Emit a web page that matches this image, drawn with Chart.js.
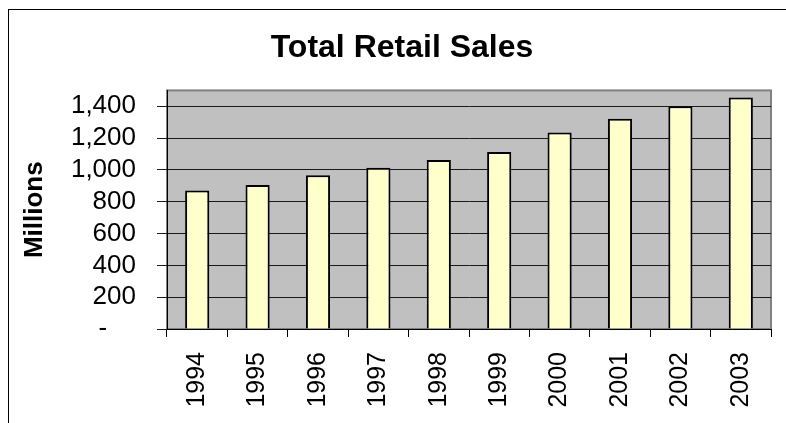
<!DOCTYPE html>
<html>
<head>
<meta charset="utf-8">
<script src="https://cdn.jsdelivr.net/npm/chart.js@4.4.1/dist/chart.umd.min.js"></script>
<style>
  html, body { margin: 0; padding: 0; background: #ffffff; }
  #wrap { width: 786px; height: 423px; }
</style>
</head>
<body>
<div id="wrap"><canvas id="c" width="786" height="423"></canvas></div>
<script>
// Annual totals, in millions
const years = ['1994', '1995', '1996', '1997', '1998', '1999', '2000', '2001', '2002', '2003'];
const sales = [870, 905, 967, 1014, 1062, 1113, 1235, 1321, 1401, 1455];
const yTickValues = [0, 200, 400, 600, 800, 1000, 1200, 1400];

const FONT = "'Liberation Sans', Arial, Helvetica, sans-serif";

// Gray plot background, gray plot frame, and the outer chart frame
const backdrop = {
  id: 'backdrop',
  beforeDraw(chart) {
    const { ctx, chartArea: a } = chart;
    ctx.save();
    ctx.strokeStyle = '#000000';
    ctx.lineWidth = 1;
    ctx.strokeRect(8.5, 9.5, chart.width + 20, chart.height + 20);
    ctx.fillStyle = '#c0c0c0';
    ctx.fillRect(a.left, a.top, a.right - a.left, a.bottom - a.top);
    ctx.strokeStyle = '#808080';
    ctx.lineWidth = 2;
    ctx.strokeRect(a.left, a.top, a.right - a.left, a.bottom - a.top);
    ctx.restore();
  }
};

new Chart(document.getElementById('c'), {
  type: 'bar',
  data: {
    labels: years,
    datasets: [{
      label: 'Total Retail Sales',
      data: sales,
      backgroundColor: '#ffffcc',
      borderColor: '#000000',
      borderWidth: 2,
      barPercentage: 0.4,
      categoryPercentage: 1.0
    }]
  },
  options: {
    responsive: false,
    animation: false,
    devicePixelRatio: 1,
    layout: { padding: { left: 22, right: 4, top: 0, bottom: 0 } },
    plugins: {
      legend: { display: false },
      tooltip: { enabled: false },
      title: {
        display: true,
        text: 'Total Retail Sales',
        color: '#000000',
        font: { family: FONT, size: 32, weight: 'bold' },
        padding: { top: 29, bottom: 23 }
      }
    },
    scales: {
      x: {
        afterFit(scale) { scale.height = 94; },
        grid: {
          offset: true,
          drawOnChartArea: false,
          drawTicks: true,
          tickLength: 8,
          color: '#000000'
        },
        border: { display: true, color: '#000000', width: 1 },
        ticks: {
          color: '#000000',
          font: { family: FONT, size: 25 },
          maxRotation: 90,
          minRotation: 90,
          padding: 15,
          autoSkip: false
        }
      },
      y: {
        min: 0,
        max: 1500,
        afterFit(scale) { scale.width = 145; },
        afterBuildTicks(scale) {
          scale.ticks = yTickValues.map(v => ({ value: v }));
        },
        grid: {
          color: '#1a1a1a',
          drawTicks: true,
          tickLength: 10
        },
        border: { display: true, color: '#000000', width: 1 },
        ticks: {
          color: '#000000',
          font: { family: FONT, size: 26 },
          padding: 21,
          autoSkip: false,
          callback(v) {
            return v === 0 ? '-\u2007\u2007' : Number(v).toLocaleString('en-US');
          }
        },
        title: {
          display: true,
          text: 'Millions',
          color: '#000000',
          font: { family: FONT, size: 26, weight: 'bold', lineHeight: 0.8 },
          padding: { top: 2, bottom: 0 }
        }
      }
    }
  },
  plugins: [backdrop]
});
</script>
</body>
</html>
